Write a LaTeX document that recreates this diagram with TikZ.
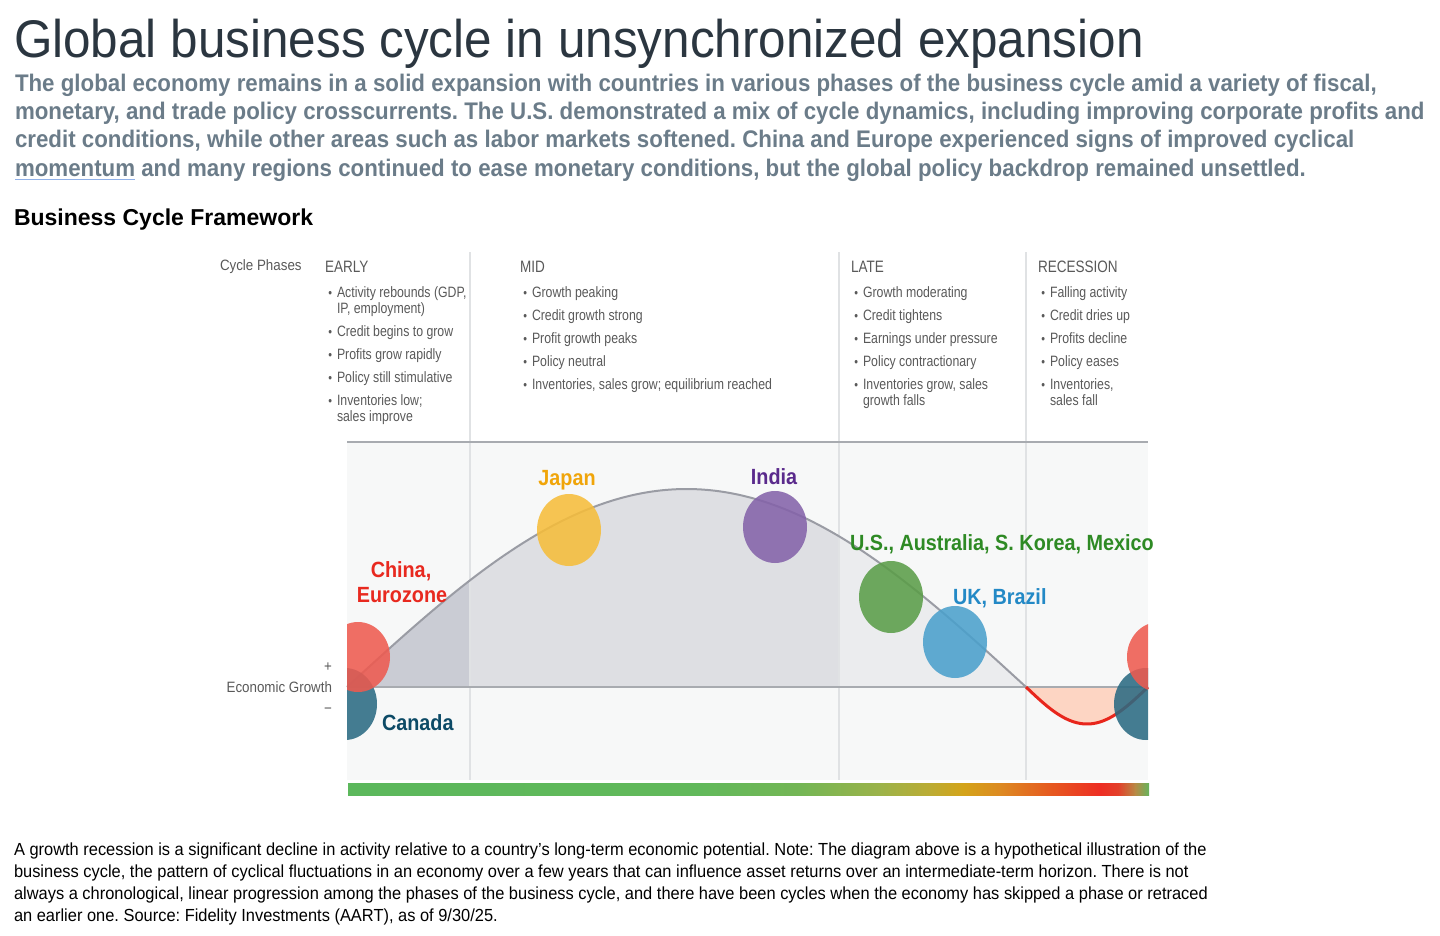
\documentclass[tikz,border=0pt]{standalone}
\usepackage{fontspec}
\setmainfont{Liberation Sans}
\frenchspacing
\newfontfamily\titlefont[FakeStretch=0.933]{Liberation Sans}
\newfontfamily\subfont[FakeStretch=0.929]{Liberation Sans}
\newfontfamily\footfont[FakeStretch=0.939]{Liberation Sans}
\newfontfamily\narrowfont[FakeStretch=0.82]{Liberation Sans}
\newfontfamily\axisfont[FakeStretch=0.89]{Liberation Sans}
\newfontfamily\labelfont[FakeStretch=0.9]{Liberation Sans}
\definecolor{titlec}{HTML}{2B3640}
\definecolor{subc}{HTML}{6B7C89}
\definecolor{phasec}{HTML}{595959}
\definecolor{bgc}{HTML}{F7F8F8}
\definecolor{framec}{HTML}{A8ABB0}
\definecolor{sepc}{HTML}{E0E2E4}
\definecolor{earlyfill}{HTML}{CACCD4}
\definecolor{midfill}{HTML}{DEDFE3}
\definecolor{latefill}{HTML}{EBECEE}
\definecolor{recfill}{HTML}{FDD5C3}
\definecolor{curvec}{HTML}{9A9CA4}
\definecolor{redline}{HTML}{E8261C}
\definecolor{cred}{HTML}{EE5A4F}
\definecolor{cteal}{HTML}{2A6A82}
\definecolor{cyellow}{HTML}{F6BD3A}
\definecolor{cpurple}{HTML}{8462A9}
\definecolor{cgreen}{HTML}{5A9D48}
\definecolor{cblue}{HTML}{4AA0CC}
\definecolor{tred}{HTML}{E8291F}
\definecolor{tteal}{HTML}{0C4A66}
\definecolor{tyellow}{HTML}{F0A50A}
\definecolor{tpurple}{HTML}{5A2A8C}
\definecolor{tgreen}{HTML}{2E8A24}
\definecolor{tblue}{HTML}{2389C6}
\definecolor{g1}{HTML}{5CB85C}
\definecolor{g2}{HTML}{62B95B}
\definecolor{g3}{HTML}{74B655}
\definecolor{g4}{HTML}{9CB34A}
\definecolor{g5}{HTML}{BCAC34}
\definecolor{g6}{HTML}{D4A41A}
\definecolor{g7}{HTML}{DD8A22}
\definecolor{g8}{HTML}{E65A20}
\definecolor{g9}{HTML}{EE2E24}
\definecolor{g10}{HTML}{E3402A}
\definecolor{g11}{HTML}{B88A45}
\definecolor{g12}{HTML}{66B45C}
\definecolor{ulc}{HTML}{8FB0E8}
\tikzset{
  txt/.style={inner sep=0pt, outer sep=0pt},
  sub/.style={txt, anchor=base west, text=subc, font=\subfont\bfseries\fontsize{24}{24}\selectfont},
  foot/.style={txt, anchor=base west, text=black, font=\footfont\fontsize{17.5}{17.5}\selectfont},
  phasehead/.style={txt, anchor=base west, text=phasec, font=\narrowfont\fontsize{16.5}{16.5}\selectfont},
  bul/.style={txt, anchor=base west, text=phasec, font=\narrowfont\fontsize{15}{15}\selectfont},
  axislab/.style={txt, text=phasec, font=\axisfont\fontsize{15}{15}\selectfont},
  country/.style={txt, anchor=base, font=\labelfont\bfseries\fontsize{22}{22}\selectfont},
  sepline/.style={draw=sepc, line width=1.2pt},
  blob/.style={opacity=0.87},
}
\newcommand{\bdot}{\llap{{\fontsize{13}{13}\selectfont •}\hspace{5pt}}}
\newcommand{\ulword}[1]{\setbox0\hbox{#1}\rlap{\color{ulc}\rule[-4pt]{\wd0}{1.5pt}}\box0\relax}
\begin{document}
\begin{tikzpicture}[x=1pt,y=-1pt]
\useasboundingbox (0,0) rectangle (1440,935);
% title block
\node[txt, anchor=base west, text=titlec, font=\titlefont\fontsize{53}{53}\selectfont] (title) at (14,57) {Global business cycle in unsynchronized expansion};
\node[sub] (s1) at (15,91) {The global economy remains in a solid expansion with countries in various phases of the business cycle amid a variety of fiscal,};
\node[sub] (s2) at (15,119) {monetary, and trade policy crosscurrents. The U.S. demonstrated a mix of cycle dynamics, including improving corporate profits and};
\node[sub] (s3) at (15,147) {credit conditions, while other areas such as labor markets softened. China and Europe experienced signs of improved cyclical};
\node[sub] (s4) at (15,176) {\ulword{momentum} and many regions continued to ease monetary conditions, but the global policy backdrop remained unsettled.};
\node[txt, anchor=base west, text=black, font=\bfseries\fontsize{23}{23}\selectfont] (fw) at (14,225) {Business Cycle Framework};
% chart background
\fill[bgc] (347,443) rectangle (1148,780);
% fills under curve
\fill[earlyfill] (347,687) -- plot[domain=347:470,samples=40] (\x,{687-198*sin((\x-347)*0.265096)}) -- (470,687) -- cycle;
\fill[midfill] (470,687) -- plot[domain=470:839,samples=80] (\x,{687-198*sin((\x-347)*0.265096)}) -- (839,687) -- cycle;
\fill[latefill] (839,687) -- plot[domain=839:1026,samples=50] (\x,{687-198*sin((\x-347)*0.265096)}) -- (1026,687) -- cycle;
\fill[recfill] (1026,687) -- plot[domain=1026:1148,samples=50] (\x,{687+37*sin((\x-1026)*1.47541)}) -- cycle;
% separators
\draw[sepline] (470,252) -- (470,780);
\draw[sepline] (839,252) -- (839,780);
\draw[sepline] (1026,252) -- (1026,780);
% frame lines
\draw[framec, line width=1.8pt] (347,442) -- (1148,442);
\draw[framec, line width=2.5pt] (347,687) -- (1148,687);
% curves
\draw[curvec, line width=2pt] plot[domain=347:1026,samples=150] (\x,{687-198*sin((\x-347)*0.265096)});
\draw[redline, line width=3pt] plot[domain=1026:1148,samples=50] (\x,{687+37*sin((\x-1026)*1.47541)});
% blobs
\begin{scope}
\clip (347,430) rectangle (1148,790);
\fill[cteal, blob] (345,704) ellipse [x radius=32, y radius=36];
\fill[cred, blob] (358,657) ellipse [x radius=32, y radius=35];
\fill[cteal, blob] (1146,704) ellipse [x radius=32, y radius=36];
\fill[cred, blob] (1159,657) ellipse [x radius=32, y radius=35];
\fill[cyellow, blob] (569,530) ellipse [x radius=32, y radius=36];
\fill[cpurple, blob] (775,527) ellipse [x radius=32, y radius=36];
\fill[cgreen, blob] (891,597) ellipse [x radius=32, y radius=36];
\fill[cblue, blob] (955,642) ellipse [x radius=32, y radius=36];
\end{scope}
% gradient bar
\shade[left color=g1, right color=g2] (348,783) rectangle (700.5,795);
\shade[left color=g2, right color=g3] (700,783) rectangle (800.5,795);
\shade[left color=g3, right color=g4] (800,783) rectangle (880.5,795);
\shade[left color=g4, right color=g5] (880,783) rectangle (930.5,795);
\shade[left color=g5, right color=g6] (930,783) rectangle (963.5,795);
\shade[left color=g6, right color=g7] (963,783) rectangle (1000.5,795);
\shade[left color=g7, right color=g8] (1000,783) rectangle (1050.5,795);
\shade[left color=g8, right color=g9] (1050,783) rectangle (1100.5,795);
\shade[left color=g9, right color=g10] (1100,783) rectangle (1118.5,795);
\shade[left color=g10, right color=g11] (1118,783) rectangle (1135.5,795);
\shade[left color=g11, right color=g12] (1135,783) rectangle (1149,795);
% country labels
\node[country, text=tred] (china) at (401,577) {China,};
\node[country, text=tred] (euro) at (402,602) {Eurozone};
\node[country, text=tteal, anchor=base west] (canada) at (382,730) {Canada};
\node[country, text=tyellow] (japan) at (567,485) {Japan};
\node[country, text=tpurple] (india) at (774,484) {India};
\node[country, text=tgreen, anchor=base west] (us) at (850,550) {U.S., Australia, S. Korea, Mexico};
\node[country, text=tblue, anchor=base west] (uk) at (953,604) {UK, Brazil};
% axis labels
\node[axislab, anchor=base west] (cp) at (220,270) {Cycle Phases};
\node[axislab, anchor=base] (plus) at (328,671) {+};
\node[axislab, anchor=base east] (eg) at (332,692) {Economic Growth};
\node[axislab, anchor=base] (minus) at (328,713) {\textminus};
% phase headers
\node[phasehead] (early) at (325,272) {EARLY};
\node[phasehead] (mid) at (520,272) {MID};
\node[phasehead] (late) at (851,272) {LATE};
\node[phasehead] (rec) at (1038,272) {RECESSION};
% early bullets
\node[bul] (e1) at (337,297) {\bdot Activity rebounds (GDP,};
\node[bul] (e1b) at (337,313) {IP, employment)};
\node[bul] (e2) at (337,336) {\bdot Credit begins to grow};
\node[bul] (e3) at (337,359) {\bdot Profits grow rapidly};
\node[bul] (e4) at (337,382) {\bdot Policy still stimulative};
\node[bul] (e5) at (337,405) {\bdot Inventories low;};
\node[bul] (e5b) at (337,421) {sales improve};
% mid bullets
\node[bul] (m1) at (532,297) {\bdot Growth peaking};
\node[bul] (m2) at (532,320) {\bdot Credit growth strong};
\node[bul] (m3) at (532,343) {\bdot Profit growth peaks};
\node[bul] (m4) at (532,366) {\bdot Policy neutral};
\node[bul] (m5) at (532,389) {\bdot Inventories, sales grow; equilibrium reached};
% late bullets
\node[bul] (l1) at (863,297) {\bdot Growth moderating};
\node[bul] (l2) at (863,320) {\bdot Credit tightens};
\node[bul] (l3) at (863,343) {\bdot Earnings under pressure};
\node[bul] (l4) at (863,366) {\bdot Policy contractionary};
\node[bul] (l5) at (863,389) {\bdot Inventories grow, sales};
\node[bul] (l5b) at (863,405) {growth falls};
% recession bullets
\node[bul] (r1) at (1050,297) {\bdot Falling activity};
\node[bul] (r2) at (1050,320) {\bdot Credit dries up};
\node[bul] (r3) at (1050,343) {\bdot Profits decline};
\node[bul] (r4) at (1050,366) {\bdot Policy eases};
\node[bul] (r5) at (1050,389) {\bdot Inventories,};
\node[bul] (r5b) at (1050,405) {sales fall};
% footnote
\node[foot] (f1) at (14,855) {A growth recession is a significant decline in activity relative to a country’s long-term economic potential. Note: The diagram above is a hypothetical illustration of the};
\node[foot] (f2) at (14,877) {business cycle, the pattern of cyclical fluctuations in an economy over a few years that can influence asset returns over an intermediate-term horizon. There is not};
\node[foot] (f3) at (14,899) {always a chronological, linear progression among the phases of the business cycle, and there have been cycles when the economy has skipped a phase or retraced};
\node[foot] (f4) at (14,921) {an earlier one. Source: Fidelity Investments (AART), as of 9/30/25.};
\end{tikzpicture}
\end{document}
